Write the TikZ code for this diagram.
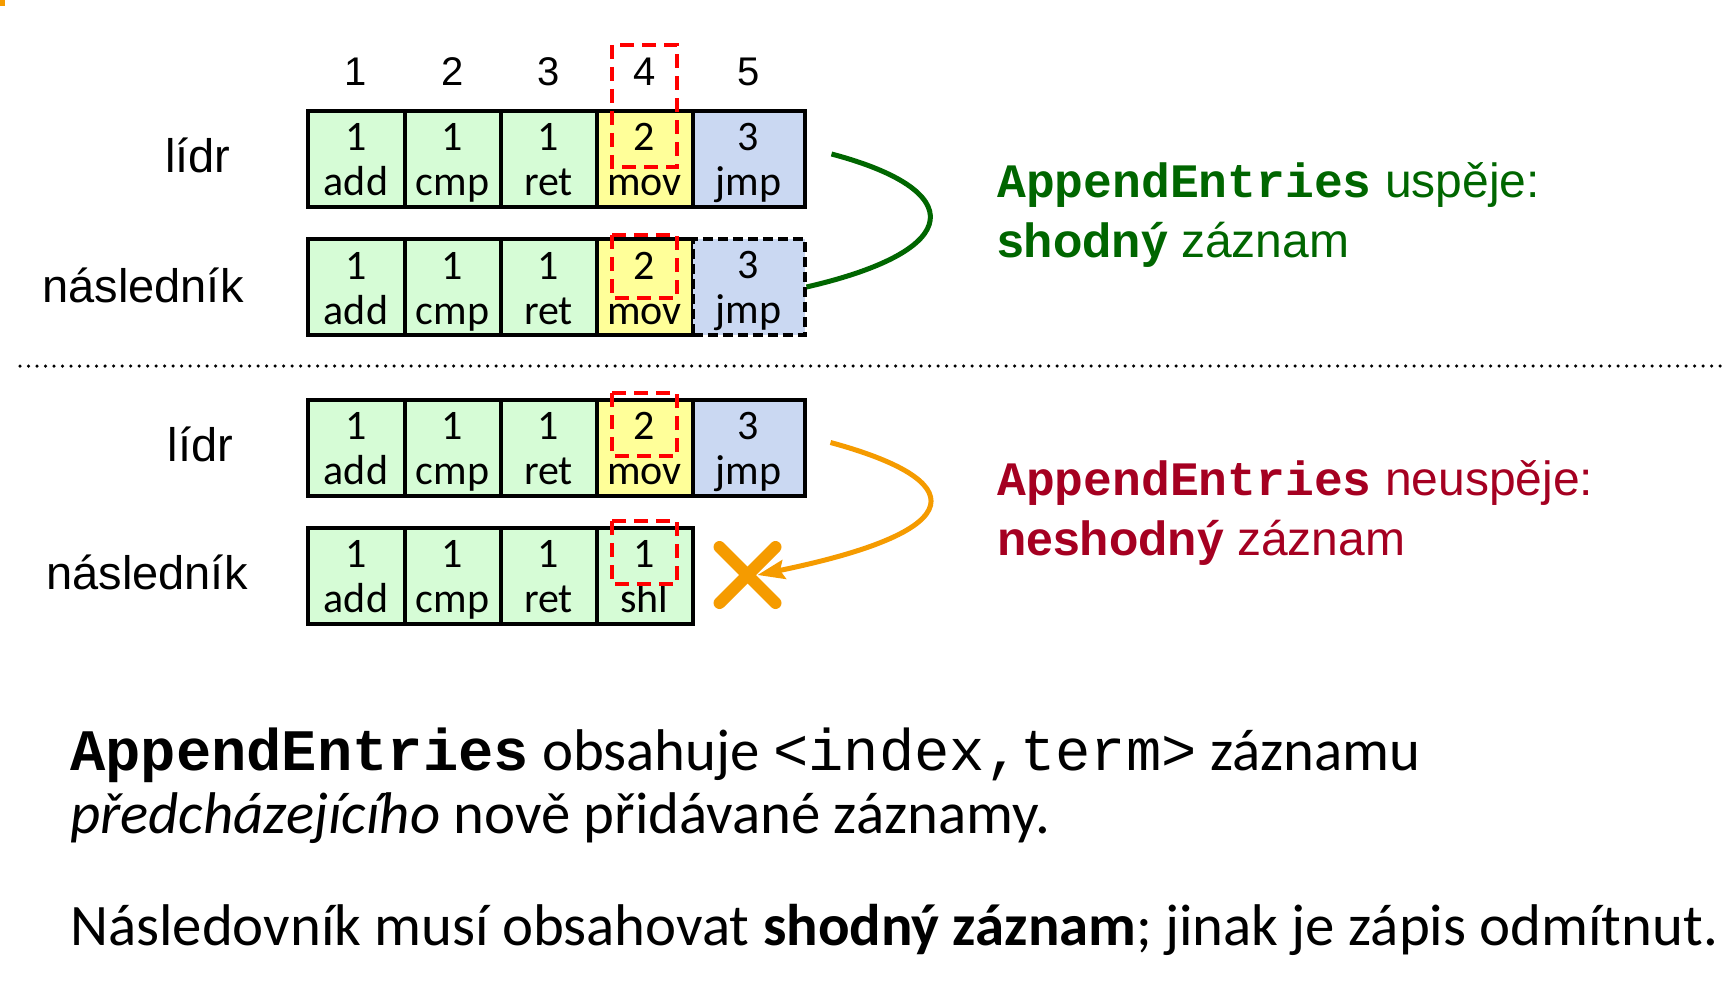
\documentclass[tikz,border=0pt]{standalone}
\usepackage{fontspec}
\usetikzlibrary{arrows.meta}
\newfontfamily\arialf{Liberation Sans}
\newfontfamily\calf{Carlito}
\newfontfamily\courf{Liberation Mono}
\definecolor{cellgreen}{RGB}{214,252,214}
\definecolor{cellyellow}{RGB}{255,255,153}
\definecolor{cellblue}{RGB}{202,216,242}
\definecolor{okgreen}{RGB}{0,102,0}
\definecolor{baddred}{RGB}{165,0,33}
\definecolor{warnorange}{RGB}{245,155,0}
\definecolor{markred}{RGB}{255,0,0}
% two-line log entry: term on top, command below
\newcommand\entrytext[2]{\rule{0pt}{36pt}#1\\#2\rule[-7pt]{0pt}{7pt}}
\begin{document}
\begin{tikzpicture}[x=1pt,y=-1pt,
  cell/.style={draw=black, line width=4pt, inner sep=0pt, minimum height=96pt,
    align=center, font=\calf\fontsize{42pt}{45pt}\selectfont},
  colnum/.style={inner sep=0pt, font=\arialf\fontsize{40pt}{44pt}\selectfont},
  rowlab/.style={inner sep=0pt, font=\arialf\fontsize{47pt}{52pt}\selectfont},
  sidetxt/.style={inner sep=0pt, anchor=base west, font=\arialf\fontsize{48pt}{52pt}\selectfont},
  bodytxt/.style={inner sep=0pt, anchor=base west, font=\calf\fontsize{58.8pt}{63pt}\selectfont},
  reddash/.style={draw=markred, line width=4pt, dash pattern=on 14pt off 8pt},
  sepline/.style={draw=black, line width=3.5pt, line cap=round, dash pattern=on 0pt off 8.5pt},
  okline/.style={draw=okgreen, line width=5pt},
  failline/.style={draw=warnorange, line width=5pt},
  crossline/.style={draw=warnorange, line width=12pt, line cap=round}]
\useasboundingbox (0,0) rectangle (1728,984);
\fill[warnorange] (0,0) rectangle (5,6);

% log indices
\foreach \i/\x in {1/356,2/452.5,3/548.5,4/644.5,5/748.5}
  \node[colnum,anchor=base] (h\i) at (\x,86) {\i};

% common prefix of all four logs
\foreach \r/\y in {a/159,b/287,c/447.5,d/575.5}{
  \node[cell,fill=cellgreen,minimum width=97pt] (\r1) at (356,\y) {\entrytext{1}{add}};
  \node[cell,fill=cellgreen,minimum width=96pt] (\r2) at (452.5,\y) {\entrytext{1}{cmp}};
  \node[cell,fill=cellgreen,minimum width=96pt] (\r3) at (548.5,\y) {\entrytext{1}{ret}};
}
% entry 4
\foreach \r/\y in {a/159,b/287,c/447.5}
  \node[cell,fill=cellyellow,minimum width=96pt] (\r4) at (644.5,\y) {\entrytext{2}{mov}};
\node[cell,fill=cellgreen,minimum width=96pt] (d4) at (644.5,575.5) {\entrytext{1}{shl}};
% entry 5
\node[cell,fill=cellblue,minimum width=112pt] (a5) at (748.5,159) {\entrytext{3}{jmp}};
\node[cell,fill=cellblue,minimum width=112pt,dash pattern=on 10pt off 5pt] (b5) at (748.5,287) {\entrytext{3}{jmp}};
\node[cell,fill=cellblue,minimum width=112pt] (c5) at (748.5,447.5) {\entrytext{3}{jmp}};

% previous entry carried in the request
\draw[reddash] (612,45) rectangle (677,167);
\draw[reddash] (612,235) rectangle (677,298);
\draw[reddash] (612,393) rectangle (677,456);
\draw[reddash] (612,521) rectangle (677,584);

% row labels
\node[rowlab,anchor=base] (la) at (198,173) {lídr};
\node[rowlab,anchor=base] (lb) at (143,302) {následník};
\node[rowlab,anchor=base] (lc) at (200.5,461) {lídr};
\node[rowlab,anchor=base] (ld) at (147,589) {následník};

% separator
\draw[sepline] (20,366) -- (1728,366);

% successful append
\draw[okline] ([shift={(25,-5)}]a5.east) .. controls +(136,36) and +(160.5,-37) .. (b5.east);

% rejected append
\coordinate (xm) at (747.5,575);
\draw[failline,-{Stealth[length=27pt,width=19pt,inset=4pt]}]
  ([shift={(24,-5)}]c5.east) .. controls +(138,37.5) and +(219,-45) .. ([xshift=10pt]xm);
\draw[crossline] ([shift={(-28,-28)}]xm) -- ([shift={(28,28)}]xm);
\draw[crossline] ([shift={(28,-28)}]xm) -- ([shift={(-28,28)}]xm);

% outcomes
\node[sidetxt,text=okgreen] (ok1) at (997,198) {{\courf\bfseries AppendEntries} uspěje:};
\node[sidetxt,text=okgreen] (ok2) at (997,258) {{\bfseries shodný} záznam};
\node[sidetxt,text=baddred] (bad1) at (997,495) {{\courf\bfseries AppendEntries} neuspěje:};
\node[sidetxt,text=baddred] (bad2) at (997,555) {{\bfseries neshodný} záznam};

% explanation
\node[bodytxt] (p1) at (70,770) {{\courf\bfseries AppendEntries} obsahuje {\courf<index,term>} záznamu};
\node[bodytxt] (p2) at (70,833) {{\itshape předcházejícího} nově přidávané záznamy.};
\node[bodytxt] (p3) at (70,945) {Následovník musí obsahovat {\bfseries shodný záznam}; jinak je zápis odmítnut.};
\end{tikzpicture}
\end{document}
